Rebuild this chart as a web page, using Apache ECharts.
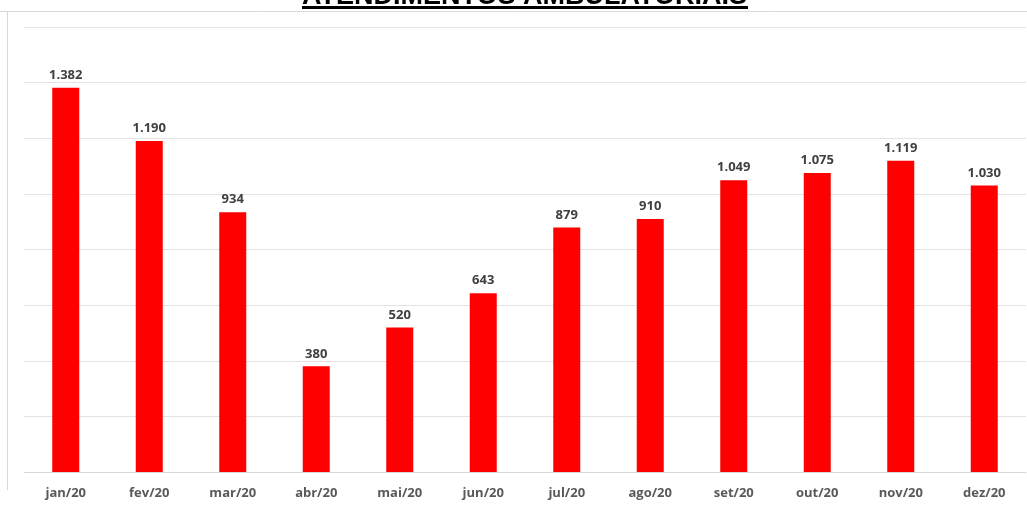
<!DOCTYPE html>
<html><head><meta charset="utf-8">
<script src="https://cdn.jsdelivr.net/npm/echarts@6/dist/echarts.min.js"></script>
<style>html,body{margin:0;padding:0;background:#fff}#c{width:1027px;height:509px}</style>
</head><body><div id="c"></div>
<script>
const titleText = 'ATENDIMENTOS AMBULATORIAIS';
const categories = ['jan/20','fev/20','mar/20','abr/20','mai/20','jun/20','jul/20','ago/20','set/20','out/20','nov/20','dez/20'];
const values = [1382, 1190, 934, 380, 520, 643, 879, 910, 1049, 1075, 1119, 1030];

function fmt(v){ return String(v).replace(/\B(?=(\d{3})+(?!\d))/g, '.'); }

const chart = echarts.init(document.getElementById('c'));
chart.setOption({
  animation: false,
  backgroundColor: '#fff',
  title: {
    text: titleText, left: 297, top: -22,
    textStyle: { fontFamily: 'Liberation Sans', fontWeight: 'bold', fontSize: 27, color: '#000' }
  },
  graphic: [
    { type: 'line', shape: { x1: 302, y1: 7.5, x2: 748, y2: 7.5 }, style: { stroke: '#000', lineWidth: 3 } },
    { type: 'line', shape: { x1: 0, y1: 11.5, x2: 1027, y2: 11.5 }, style: { stroke: '#d9d9d9', lineWidth: 1 } },
    { type: 'line', shape: { x1: 7.5, y1: 11, x2: 7.5, y2: 490 }, style: { stroke: '#d9d9d9', lineWidth: 1 } }
  ],
  grid: { left: 24, right: 1, top: 27, bottom: 37, containLabel: false },
  xAxis: {
    type: 'category', data: categories,
    axisLine: { lineStyle: { color: '#d9d9d9' } },
    axisTick: { show: false },
    axisLabel: { color: '#595959', fontFamily: 'Open Sans', fontWeight: 'bold', fontSize: 13, margin: 15 }
  },
  yAxis: {
    type: 'value', min: 0, max: 1600, interval: 200,
    axisLabel: { show: false }, axisLine: { show: false }, axisTick: { show: false },
    splitLine: { lineStyle: { color: '#e3e3e3' } }
  },
  series: [{
    type: 'bar', data: values, barWidth: 27,
    itemStyle: { color: '#ff0000' },
    label: { show: true, position: 'top', distance: 6, color: '#404040', fontFamily: 'Open Sans', fontWeight: 'bold', fontSize: 13,
      formatter: p => fmt(p.value) }
  }]
});
</script></body></html>
